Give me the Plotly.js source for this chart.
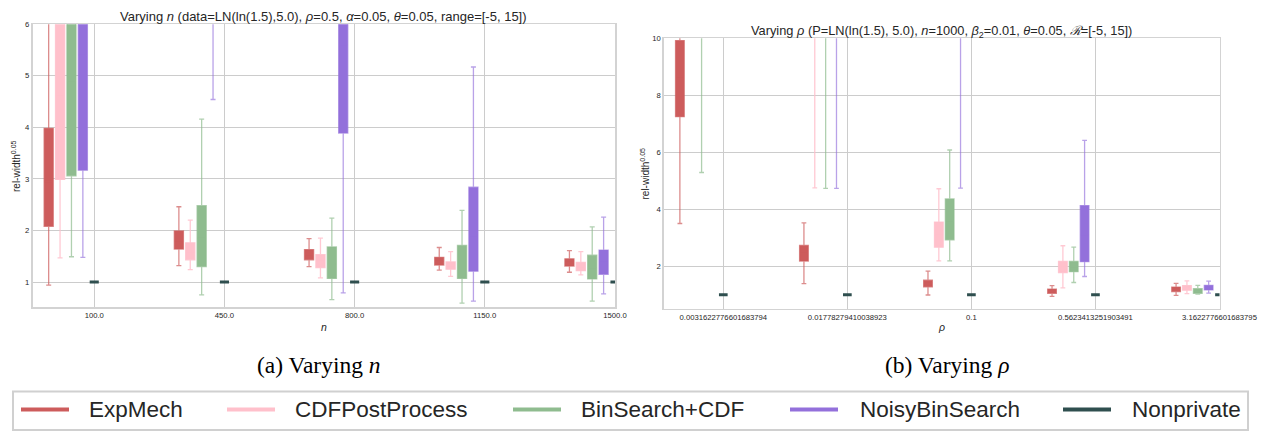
<!DOCTYPE html>
<html>
<head>
<meta charset="utf-8">
<script src="https://cdn.plot.ly/plotly-3.0.1.min.js"></script>
<style>html,body{margin:0;padding:0;background:#fff;}#chart{width:1266px;height:431px;}</style>
</head>
<body>
<div id="chart"></div>
<script>
// ---------- DATA ----------
const methods = ['ExpMech', 'CDFPostProcess', 'BinSearch+CDF', 'NoisyBinSearch', 'Nonprivate'];

// Panel (a): varying n
const nValues = [100, 450, 800, 1150, 1500];
const nTickLabels = ['100.0', '450.0', '800.0', '1150.0', '1500.0'];
// rows = methods, columns = n values
const nLo = [
  [0.94, 1.32, 1.30, 1.23, 1.19],
  [1.47, 1.24, 1.08, 1.11, 1.14],
  [1.49, 0.75, 0.66, 0.59, 0.63],
  [1.48, 4.54, 0.79, 0.63, 0.77],
  [1.00, 1.00, 1.00, 1.00, 1.00]
];
const nQ1 = [
  [2.08, 1.64, 1.43, 1.33, 1.31],
  [2.99, 1.43, 1.28, 1.25, 1.22],
  [3.06, 1.30, 1.07, 1.07, 1.06],
  [3.17, 6.90, 3.89, 1.21, 1.15],
  [1.00, 1.00, 1.00, 1.00, 1.00]
];
const nMed = [
  [2.95, 1.80, 1.53, 1.40, 1.38],
  [4.60, 1.58, 1.40, 1.32, 1.30],
  [4.90, 1.85, 1.35, 1.35, 1.28],
  [5.40, 9.00, 5.60, 1.90, 1.38],
  [1.00, 1.00, 1.00, 1.00, 1.00]
];
const nQ3 = [
  [3.98, 1.99, 1.63, 1.48, 1.45],
  [7.60, 1.76, 1.53, 1.39, 1.38],
  [8.00, 2.48, 1.68, 1.71, 1.52],
  [8.40, 12.5, 7.30, 2.84, 1.62],
  [1.00, 1.00, 1.00, 1.00, 1.00]
];
const nHi = [
  [8.20, 2.46, 1.84, 1.67, 1.61],
  [12.5, 2.20, 1.85, 1.59, 1.59],
  [13.0, 4.16, 2.24, 2.39, 2.07],
  [13.6, 18.0, 12.0, 5.17, 2.26],
  [1.00, 1.00, 1.00, 1.00, 1.00]
];

// Panel (b): varying rho
const rhoLabels = ['0.0031622776601683794', '0.01778279410038923', '0.1', '0.5623413251903491', '3.1622776601683795'];
const rLo = [
  [3.50, 1.39, 0.99, 0.94, 0.98],
  [10.6, 4.75, 2.19, 1.24, 1.04],
  [5.29, 4.73, 2.19, 1.43, 1.02],
  [10.8, 4.73, 4.74, 1.64, 1.06],
  [1.00, 1.00, 1.00, 1.00, 1.00]
];
const rQ1 = [
  [7.25, 2.18, 1.28, 1.05, 1.11],
  [14.0, 11.5, 2.67, 1.78, 1.16],
  [11.2, 11.0, 2.93, 1.81, 1.05],
  [14.5, 11.3, 10.6, 2.16, 1.17],
  [1.00, 1.00, 1.00, 1.00, 1.00]
];
const rMed = [
  [8.60, 2.45, 1.40, 1.12, 1.19],
  [17.0, 14.0, 3.10, 1.96, 1.24],
  [13.5, 13.5, 3.60, 1.98, 1.13],
  [17.5, 14.0, 13.0, 3.10, 1.25],
  [1.00, 1.00, 1.00, 1.00, 1.00]
];
const rQ3 = [
  [9.92, 2.73, 1.51, 1.20, 1.27],
  [20.0, 17.0, 3.55, 2.17, 1.32],
  [16.0, 16.5, 4.36, 2.17, 1.21],
  [21.0, 17.5, 16.0, 4.13, 1.33],
  [1.00, 1.00, 1.00, 1.00, 1.00]
];
const rHi = [
  [14.0, 3.52, 1.83, 1.32, 1.40],
  [26.0, 24.0, 4.72, 2.72, 1.49],
  [22.0, 23.0, 6.08, 2.67, 1.33],
  [27.0, 25.0, 24.0, 6.42, 1.48],
  [1.00, 1.00, 1.00, 1.00, 1.00]
];

// ---------- STYLE ----------
const colors = ['#CD5C5C', '#FFC0CB', '#8FBC8F', '#9370DB', '#2F4F4F'];
const edgeColors = ['rgba(205,92,92,0.7)', 'rgba(255,192,203,0.85)', 'rgba(143,188,143,0.7)', 'rgba(147,112,219,0.65)', '#2F4F4F'];
const offsets = [-0.35, -0.2625, -0.175, -0.0875, 0];   // fraction of category spacing
const W = 1266, H = 431;
const px = x => x / W;
const py = y => 1 - y / H;
const FONT = 'Liberation Sans, Arial, sans-serif';
const TXT = '#262626';

const traces = [];
const nStep = 350;
methods.forEach((m, i) => {
  traces.push({
    type: 'box', xaxis: 'x', yaxis: 'y', name: m, showlegend: false,
    x: nValues.map(v => v + offsets[i] * nStep),
    lowerfence: nLo[i], q1: nQ1[i], median: nMed[i], q3: nQ3[i], upperfence: nHi[i],
    width: 0.07 * nStep, whiskerwidth: 0.55, boxpoints: false,
    fillcolor: colors[i],
    line: {color: edgeColors[i], width: i === 4 ? 3 : 1.3},
    hoverinfo: 'skip'
  });
  traces.push({
    type: 'box', xaxis: 'x2', yaxis: 'y2', name: m, showlegend: false,
    x: rhoLabels.map((_, k) => k + offsets[i]),
    lowerfence: rLo[i], q1: rQ1[i], median: rMed[i], q3: rQ3[i], upperfence: rHi[i],
    width: 0.07, whiskerwidth: 0.55, boxpoints: false,
    fillcolor: colors[i],
    line: {color: edgeColors[i], width: i === 4 ? 3 : 1.3},
    hoverinfo: 'skip'
  });
});

const axisCommon = {
  showgrid: true, gridcolor: '#cccccc', gridwidth: 1,
  showline: true, mirror: true, linecolor: '#d3d3d3', linewidth: 1.6,
  zeroline: false, ticks: '', fixedrange: true,
  tickfont: {family: FONT, size: 7.7, color: TXT}
};

const shapes = [];
const annotations = [];
function addText(x, y, text, font, extra) {
  annotations.push(Object.assign({xref: 'paper', yref: 'paper', x: px(x), y: py(y), showarrow: false,
    xanchor: 'center', yanchor: 'middle', text: text, font: font}, extra || {}));
}

// Titles
addText(323.7, 16,
  'Varying <i>n</i> (data=LN(ln(1.5),5.0), <i>ρ</i>=0.5, <i>α</i>=0.05, <i>θ</i>=0.05, range=[-5, 15])',
  {family: FONT, size: 13, color: TXT});
addText(941.8, 31.5,
  'Varying <i>ρ</i> (P=LN(ln(1.5), 5.0), <i>n</i>=1000, <i>β</i><sub>2</sub>=0.01, <i>θ</i>=0.05, <i>ℛ</i>=[-5, 15])',
  {family: FONT, size: 12.8, color: TXT});
// Axis titles
addText(323.7, 327, '<i>n</i>', {family: FONT, size: 10.5, color: TXT});
addText(941.8, 327, '<i>ρ</i>', {family: FONT, size: 10.5, color: TXT});
addText(16, 166, 'rel-width<sup>0.05</sup>', {family: FONT, size: 10, color: TXT}, {textangle: -90});
addText(644, 173.5, 'rel-width<sup>0.05</sup>', {family: FONT, size: 10, color: TXT}, {textangle: -90});
// Captions
addText(318.5, 365, '(a) Varying <i>n</i>', {family: 'Liberation Serif, Times New Roman, serif', size: 23.5, color: '#000'});
addText(947, 365, '(b) Varying <i>ρ</i>', {family: 'Liberation Serif, Times New Roman, serif', size: 23.5, color: '#000'});

// Legend (drawn as a frame of lines + labels)
shapes.push({type: 'rect', xref: 'paper', yref: 'paper', x0: px(13), x1: px(1248), y0: py(430), y1: py(391.5),
  line: {color: '#d0d0d0', width: 2}, fillcolor: 'rgba(255,255,255,0)'});
const legLineX = [21, 227, 513, 790, 1063];
const legTextX = [87, 293, 579, 858, 1130];
methods.forEach((m, i) => {
  shapes.push({type: 'line', xref: 'paper', yref: 'paper', x0: px(legLineX[i]), x1: px(legLineX[i] + 48),
    y0: py(409.5), y1: py(409.5), line: {color: colors[i], width: 4}});
  addText(legTextX[i], 409.5, m, {family: FONT, size: 22.5, color: TXT}, {xanchor: 'left'});
});

const layout = {
  width: W, height: H,
  margin: {l: 0, r: 0, t: 0, b: 0},
  paper_bgcolor: '#ffffff', plot_bgcolor: '#ffffff',
  showlegend: false, boxmode: 'overlay',
  xaxis: Object.assign({}, axisCommon, {domain: [px(32.5), px(615)], range: [-66, 1500],
    tickvals: nValues, ticktext: nTickLabels, anchor: 'y'}),
  yaxis: Object.assign({}, axisCommon, {domain: [py(307.3), py(24.2)], range: [0.51, 6],
    tickvals: [1, 2, 3, 4, 5, 6], anchor: 'x'}),
  xaxis2: Object.assign({}, axisCommon, {domain: [px(664), px(1219.5)], range: [-0.478, 4],
    tickvals: [0, 1, 2, 3, 4], ticktext: rhoLabels, anchor: 'y2'}),
  yaxis2: Object.assign({}, axisCommon, {domain: [py(308.7), py(38.3)], range: [0.51, 10],
    tickvals: [2, 4, 6, 8, 10], anchor: 'x2'}),
  shapes: shapes, annotations: annotations
};

Plotly.newPlot('chart', traces, layout, {displayModeBar: false, staticPlot: true});
</script>
</body>
</html>
